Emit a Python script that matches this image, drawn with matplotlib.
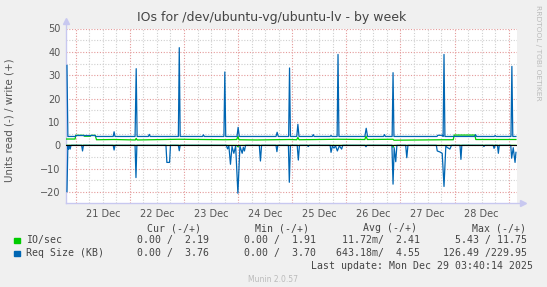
import matplotlib
matplotlib.use("Agg")
import matplotlib.pyplot as plt

W, H = 547, 287

# hours since 21 Dec 00:00
x_start, x_end = -4.33, 195.67
day_labels = ["21 Dec", "22 Dec", "23 Dec", "24 Dec", "25 Dec", "26 Dec", "27 Dec", "28 Dec"]

# Req Size (KB), write (+)
size_w_t = [-3.9, -3.5, -0.2, 0.0, 8.6, 8.9, 16.6, 17.0, 17.4, 26.3, 26.8, 27.2, 32.2, 32.6, 33.0,
            45.5, 45.9, 46.3, 56.2, 56.6, 57.0, 65.7, 66.1, 66.5, 71.5, 72.0, 72.5, 88.8, 89.3, 89.8,
            94.4, 94.8, 95.2, 98.0, 98.5, 99.0, 104.9, 105.3, 105.7, 112.8, 113.2, 113.6, 115.9, 116.3,
            116.7, 128.2, 128.8, 129.4, 136.5, 136.9, 137.3, 140.3, 140.7, 141.1, 160.2, 160.5, 162.6,
            162.9, 163.3, 163.7, 176.9, 177.3, 177.7, 185.6, 186.0, 186.4, 193.0, 193.4, 193.8, 195.2]
size_w_v = [34.2, 3.8, 3.8, 4.2, 4.2, 3.8, 3.8, 5.8, 3.8, 3.8, 32.8, 3.8, 3.8, 4.7, 3.8,
            3.8, 41.8, 3.8, 3.8, 4.5, 3.8, 3.8, 31.4, 3.8, 3.8, 7.7, 3.8, 3.8, 5.6, 3.8,
            3.8, 33.1, 3.8, 3.8, 9.0, 3.8, 3.8, 4.6, 3.8, 3.8, 4.2, 3.8, 3.8, 38.9,
            3.8, 3.8, 7.3, 3.8, 3.8, 4.6, 3.8, 3.8, 31.1, 3.8, 3.8, 4.3, 4.3,
            3.8, 38.9, 3.8, 3.8, 4.6, 3.8, 3.8, 4.2, 3.8, 3.8, 33.8, 3.8, 3.8]

# Req Size (KB), read (-)
size_r_t = [-3.9, -3.5, -3.2, -2.9, -2.5, -2.1, 2.6, 3.0, 3.4, 16.6, 17.0, 17.4, 26.3, 26.7, 27.1,
            40.0, 40.4, 41.6, 42.0, 45.5, 45.9, 46.3, 66.8, 67.3, 67.9, 68.6, 69.3, 70.1, 70.9, 71.9,
            72.8, 73.8, 74.3, 74.8, 75.3, 81.4, 81.9, 82.4, 88.8, 89.2, 89.6, 94.3, 94.7, 95.2,
            98.2, 98.7, 99.2, 102.7, 103.1, 103.5, 112.8, 113.2, 113.8, 114.5, 115.2, 116.0, 116.9,
            117.9, 118.4, 128.3, 128.7, 129.1, 140.2, 140.7, 141.2, 141.9, 142.4, 146.3, 146.8, 147.3,
            159.9, 160.3, 161.4, 162.5, 163.3, 164.1, 164.9, 165.9, 166.6, 170.4, 170.8, 171.2,
            180.6, 181.0, 181.4, 185.1, 185.5, 186.0, 187.0, 187.4, 187.8, 192.9, 193.3, 194.0,
            194.8, 195.2]
size_r_v = [-19.8, 0, -1.6, 0, -1.6, 0, 0, -2.4, 0, 0, -2.0, 0, 0, -13.8, 0,
            0, -7.3, -7.3, 0, 0, -2.3, 0, 0, -1.5, -0.3, -8.1, -0.5, -3.4, -0.3, -20.5,
            -0.3, -3.4, -0.8, -2.4, 0, 0, -6.7, 0, 0, -2.7, 0, 0, -15.8, 0,
            0, -6.3, 0, 0, -0.5, 0, 0, -3.0, -0.3, -1.2, -0.2, -2.4, -0.2,
            -1.6, 0, 0, -0.6, 0, 0, -16.6, -1.0, -7.0, 0, 0, -5.3, 0,
            0, -2.4, -2.8, -3.4, -17.6, -0.4, -1.0, -1.6, 0, 0, -6.0, 0,
            0, -0.5, 0, 0, -1.3, 0, 0, -3.4, 0, 0, -5.5, -1.0,
            -7.3, -3.0]

# IO/sec, write (+)
io_w_t = [-4.3, -0.3, 0.0, 3.5, 3.8, 6.5, 6.8, 8.6, 9.2, 17.0, 26.4, 26.8, 27.2, 45.9, 66.1,
          71.4, 71.9, 72.4, 80.0, 94.8, 98.0, 98.5, 99.0, 116.3, 128.2, 128.7, 129.3, 140.7,
          141.1, 163.3, 167.4, 167.8, 177.0, 177.4, 195.2]
io_w_v = [2.7, 2.7, 4.3, 4.3, 3.9, 3.9, 4.3, 4.3, 2.4, 2.5, 2.3, 3.0, 2.3, 2.6, 2.4,
          2.5, 3.9, 2.4, 2.3, 2.5, 2.4, 3.4, 2.4, 2.6, 2.5, 4.0, 2.5, 2.6,
          2.2, 2.4, 2.4, 4.4, 4.4, 2.5, 2.5]

# IO/sec, read (-)
io_r_t = [-4.3, 71.5, 71.9, 72.3, 140.4, 140.7, 141.0, 195.2]
io_r_v = [0, 0, -0.6, 0, 0, -0.9, 0, 0]

names = ["IO/sec", "Req Size (KB)"]
cur = ["0.00 /  2.19", "0.00 /  3.76"]
mins = ["0.00 /  1.91", "0.00 /  3.70"]
avgs = ["11.72m/  2.41", "643.18m/  4.55"]
maxs = ["5.43 / 11.75", "126.49 /229.95"]
colors = ["#00CC00", "#0066B3"]

bg = "#F0F0F0"
fig = plt.figure(figsize=(W / 100, H / 100), dpi=100, facecolor=bg)
ax = fig.add_axes([66 / W, 1 - 203.3 / H, 451 / W, 174.8 / H])
ax.set_facecolor("white")
ax.set_xlim(x_start, x_end)
ax.set_ylim(-24.8, 50)

# grid: grey minor, red major
minor_col, major_col = "#CFCFCF", "#E49A9A"
dots = (0, (1, 1.5))
for h in range(0, 196, 6):
    if h % 24:
        ax.axvline(h, color=minor_col, lw=0.8, ls=dots, zorder=1)
for h in range(0, 196, 24):
    ax.axvline(h, color=major_col, lw=0.8, ls=dots, zorder=1)
for y in range(-20, 51, 5):
    ax.axhline(y, color=major_col if y % 10 == 0 else minor_col, lw=0.8, ls=dots, zorder=1)

ax.plot(io_w_t, io_w_v, color=colors[0], lw=0.9, zorder=3)
ax.plot(io_r_t, io_r_v, color=colors[0], lw=0.9, zorder=3)
ax.plot(size_w_t, size_w_v, color=colors[1], lw=0.9, zorder=4)
ax.plot(size_r_t, size_r_v, color=colors[1], lw=0.9, zorder=4)
ax.axhline(0, color="black", lw=0.8, zorder=5)

for s in ax.spines.values():
    s.set_visible(False)

ax.set_yticks(range(-20, 51, 10))
ax.set_xticks([12 + 24 * i for i in range(len(day_labels))])
ax.set_xticklabels(day_labels)
ax.tick_params(length=0, labelsize=7, labelcolor="#555555")
ax.tick_params(axis="y", pad=4)
ax.tick_params(axis="x", pad=4)

# axis lines with arrows
axis_col = "#C8C8F0"
ax.plot([0, 0], [0, 1.045], transform=ax.transAxes, color=axis_col, lw=1, clip_on=False)
ax.plot([0, 1.013], [0, 0], transform=ax.transAxes, color=axis_col, lw=1, clip_on=False)
ax.plot([0], [1.045], transform=ax.transAxes, marker="^", ms=4, color=axis_col, clip_on=False)
ax.plot([1.013], [0], transform=ax.transAxes, marker=">", ms=4, color=axis_col, clip_on=False)


def ftext(x, y, s, **kw):
    fig.text(x / W, 1 - y / H, s, **kw)


ftext(272, 18, "IOs for /dev/ubuntu-vg/ubuntu-lv - by week", ha="center", va="center",
      fontsize=9, color="#444444")
ftext(10, 120, "Units read (-) / write (+)", ha="center", va="center", rotation=90,
      fontsize=7.4, color="#555555")
ftext(538, 53, "RRDTOOL / TOBI OETIKER", ha="center", va="center", rotation=270,
      fontsize=5.4, color="#BBBBBB")

mono = dict(family="DejaVu Sans Mono", fontsize=7.1, color="#444444", va="center")
ftext(200.6, 228.3, "Cur (-/+)", ha="right", **mono)
ftext(308.8, 228.3, "Min (-/+)", ha="right", **mono)
ftext(417.0, 228.3, "Avg (-/+)", ha="right", **mono)
ftext(526.2, 228.3, "Max (-/+)", ha="right", **mono)
for i, yy in enumerate([240.5, 253.4]):
    fig.patches.append(plt.Rectangle((14 / W, 1 - (yy + 2.8) / H), 5.5 / W, 5.5 / H,
                                     transform=fig.transFigure, color=colors[i]))
    ftext(26.2, yy, names[i], ha="left", **mono)
    ftext(209.4, yy, cur[i], ha="right", **mono)
    ftext(315.8, yy, mins[i], ha="right", **mono)
    ftext(420.4, yy, avgs[i], ha="right", **mono)
    ftext(526.9, yy, maxs[i], ha="right", **mono)
ftext(532.8, 266, "Last update: Mon Dec 29 03:40:14 2025", ha="right", **mono)
ftext(273, 279, "Munin 2.0.57", ha="center", va="center", fontsize=5.5, color="#BBBBBB")

fig.savefig("out.png", dpi=100, facecolor=bg)
